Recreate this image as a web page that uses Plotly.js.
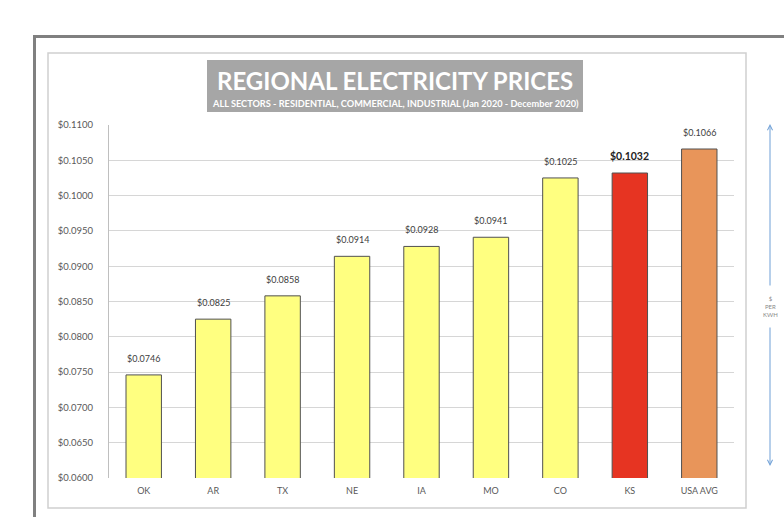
<!DOCTYPE html>
<html>
<head>
<meta charset="utf-8">
<script src="https://cdn.plot.ly/plotly-3.0.1.min.js"></script>
<style>
html,body{margin:0;padding:0;background:#fff;overflow:hidden;}
#wrap{position:relative;width:784px;height:517px;overflow:hidden;}
#chart{width:784px;height:517px;}
#frame{position:absolute;left:33px;top:35px;width:800px;height:520px;border-left:3px solid #808080;border-top:3px solid #808080;pointer-events:none;}
</style>
</head>
<body>
<div id="wrap">
<div id="chart"></div>
<div id="frame"></div>
</div>
<script>
const regions = ["OK", "AR", "TX", "NE", "IA", "MO", "CO", "KS", "USA AVG"];
const prices = [0.0746, 0.0825, 0.0858, 0.0914, 0.0928, 0.0941, 0.1025, 0.1032, 0.1066];
const priceLabels = ["$0.0746", "$0.0825", "$0.0858", "$0.0914", "$0.0928", "$0.0941", "$0.1025", "$0.1032", "$0.1066"];
const barColors = ["#FFFF80", "#FFFF80", "#FFFF80", "#FFFF80", "#FFFF80", "#FFFF80", "#FFFF80", "#E63422", "#E8955A"];
const yTickVals = [0.06, 0.065, 0.07, 0.075, 0.08, 0.085, 0.09, 0.095, 0.10, 0.105, 0.11];
const yTickText = ["$0.0600", "$0.0650", "$0.0700", "$0.0750", "$0.0800", "$0.0850", "$0.0900", "$0.0950", "$0.1000", "$0.1050", "$0.1100"];

const W = 784, H = 517;
const L = 109, R = 734, T = 125, B = 478;
const px = x => (x - L) / (R - L);
const py = y => (B - y) / (B - T);

const FONT = "Lato, 'Open Sans', sans-serif";

const trace = {
  type: "bar",
  x: regions,
  y: prices,
  width: 0.51,
  marker: { color: barColors, line: { color: "#505050", width: 1 } },
  hoverinfo: "skip"
};

const annotations = regions.map((r, i) => ({
  x: r, y: prices[i], xref: "x", yref: "y",
  text: priceLabels[i],
  showarrow: false, yanchor: "bottom", yshift: 9,
  font: { family: FONT, size: r === "KS" ? 10.5 : 9, color: r === "KS" ? "#222" : "#404040", weight: r === "KS" ? 700 : 400 }
}));

annotations.push(
  { xref: "paper", yref: "paper", x: px(395), y: py(80), text: "REGIONAL ELECTRICITY PRICES",
    showarrow: false, xanchor: "center", yanchor: "middle",
    font: { family: FONT, size: 24, color: "#ffffff", weight: 700 } },
  { xref: "paper", yref: "paper", x: px(395), y: py(103), text: "ALL SECTORS - RESIDENTIAL, COMMERCIAL, INDUSTRIAL (Jan 2020 - December 2020)",
    showarrow: false, xanchor: "center", yanchor: "middle",
    font: { family: FONT, size: 9.2, color: "#ffffff", weight: 700 } },
  { xref: "paper", yref: "paper", x: px(770), y: py(306), text: "$<br>PER<br>KWH",
    showarrow: false, xanchor: "center", yanchor: "middle",
    font: { family: FONT, size: 6, color: "#8a8a8a" } },
  { xref: "paper", yref: "paper", x: px(770), y: py(124), ax: 0, ay: 163, axref: "pixel", ayref: "pixel",
    text: "", showarrow: true, arrowhead: 5, arrowsize: 1, arrowwidth: 1, arrowcolor: "#6E9FD6" },
  { xref: "paper", yref: "paper", x: px(770), y: py(466), ax: 0, ay: -140, axref: "pixel", ayref: "pixel",
    text: "", showarrow: true, arrowhead: 5, arrowsize: 1, arrowwidth: 1, arrowcolor: "#6E9FD6" }
);

const shapes = [
  { type: "rect", xref: "paper", yref: "paper", x0: px(48), x1: px(746), y0: py(53), y1: py(508), line: { color: "#D0D0D0", width: 1.5 }, layer: "below" },
  { type: "rect", xref: "paper", yref: "paper", x0: px(207), x1: px(583), y0: py(60), y1: py(112), fillcolor: "#A6A6A6", line: { width: 0 } }
];

const layout = {
  width: W, height: H,
  margin: { l: L, r: W - R, t: T, b: H - B, pad: 0 },
  paper_bgcolor: "#ffffff", plot_bgcolor: "#ffffff",
  showlegend: false,
  xaxis: {
    type: "category",
    showgrid: false, zeroline: false,
    showline: false,
    ticks: "",
    tickfont: { family: FONT, size: 9, color: "#595959" },
    ticklabelstandoff: 6
  },
  yaxis: {
    range: [0.06, 0.11],
    tickvals: yTickVals, ticktext: yTickText,
    showgrid: true, gridcolor: "#D6D6D6", gridwidth: 1,
    zeroline: false,
    showline: true, linecolor: "#BFBFBF", linewidth: 1,
    ticks: "",
    ticklabelstandoff: 13,
    tickfont: { family: FONT, size: 9.5, color: "#595959" }
  },
  shapes: shapes,
  annotations: annotations
};

Plotly.newPlot("chart", [trace], layout, { staticPlot: true, displayModeBar: false });
</script>
</body>
</html>
